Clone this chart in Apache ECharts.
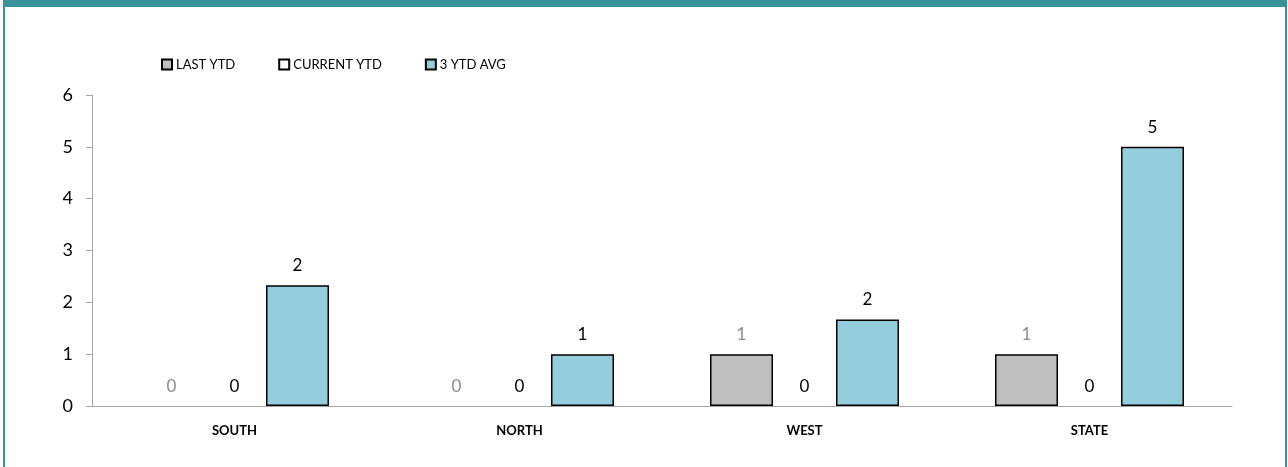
<!DOCTYPE html>
<html>
<head>
<meta charset="utf-8">
<script src="https://cdn.jsdelivr.net/npm/echarts@6/dist/echarts.min.js"></script>
<style>
html,body{margin:0;padding:0;background:#fff;}
#frame{position:absolute;left:3px;top:0;width:1284px;height:467px;border-top:7px solid #3a9399;border-left:2px solid #3a9399;border-right:2px solid #3a9399;box-sizing:border-box;}
#chart{position:absolute;left:0;top:0;width:1288px;height:467px;}
</style>
</head>
<body>
<div id="frame"></div>
<div id="chart"></div>
<script>
const categories = ['SOUTH', 'NORTH', 'WEST', 'STATE'];
const lastYtd = [0, 0, 1, 1];
const currentYtd = [0, 0, 0, 0];
const avg3Ytd = [2.33, 1, 1.67, 5];
const yTicks = [0, 1, 2, 3, 4, 5, 6];

const FONT = 'Lato, "Open Sans", sans-serif';

function items(arr) {
  return arr.map(v => v === 0 ? { value: v, itemStyle: { borderWidth: 0 } } : v);
}
function lbl(color) {
  return {
    show: true, position: 'top', distance: 11,
    color: color, fontSize: 17, fontFamily: FONT,
    formatter: p => String(Math.round(p.value))
  };
}

const chart = echarts.init(document.getElementById('chart'), null, { renderer: 'canvas' });
chart.setOption({
  animation: false,
  backgroundColor: 'transparent',
  legend: {
    left: 156, top: 53,
    itemWidth: 10, itemHeight: 10, itemGap: 43,
    textStyle: { fontSize: 13, fontFamily: FONT, color: '#000', padding: [0, 0, 0, -1] },
    icon: 'rect',
    data: ['LAST YTD', 'CURRENT YTD', '3 YTD AVG']
  },
  grid: { left: 92, right: 56, top: 95, bottom: 61, containLabel: false },
  xAxis: {
    type: 'category',
    data: categories,
    axisLine: { lineStyle: { color: '#a6a6a6', width: 1 } },
    axisTick: { show: false },
    axisLabel: { fontSize: 13, fontWeight: 'bold', color: '#000', fontFamily: FONT, margin: 18 }
  },
  yAxis: {
    type: 'value',
    min: yTicks[0], max: yTicks[yTicks.length - 1], interval: 1,
    splitLine: { show: false },
    axisLine: { show: true, lineStyle: { color: '#a6a6a6', width: 1 } },
    axisTick: { show: true, length: 6, lineStyle: { color: '#a6a6a6' } },
    axisLabel: { fontSize: 18, color: '#000', fontFamily: FONT, margin: 19 }
  },
  series: [
    {
      name: 'LAST YTD', type: 'bar', barWidth: 63, barGap: '0%',
      data: items(lastYtd),
      itemStyle: { color: '#bfbfbf', borderColor: '#000', borderWidth: 1.5 },
      label: lbl('#8c8c8c')
    },
    {
      name: 'CURRENT YTD', type: 'bar', barWidth: 63, barGap: '0%',
      data: items(currentYtd),
      itemStyle: { color: '#ffffff', borderColor: '#000', borderWidth: 1.5 },
      label: lbl('#000')
    },
    {
      name: '3 YTD AVG', type: 'bar', barWidth: 63, barGap: '0%',
      data: items(avg3Ytd),
      itemStyle: { color: '#94cddc', borderColor: '#000', borderWidth: 1.5 },
      label: lbl('#000')
    }
  ]
});
</script>
</body>
</html>
